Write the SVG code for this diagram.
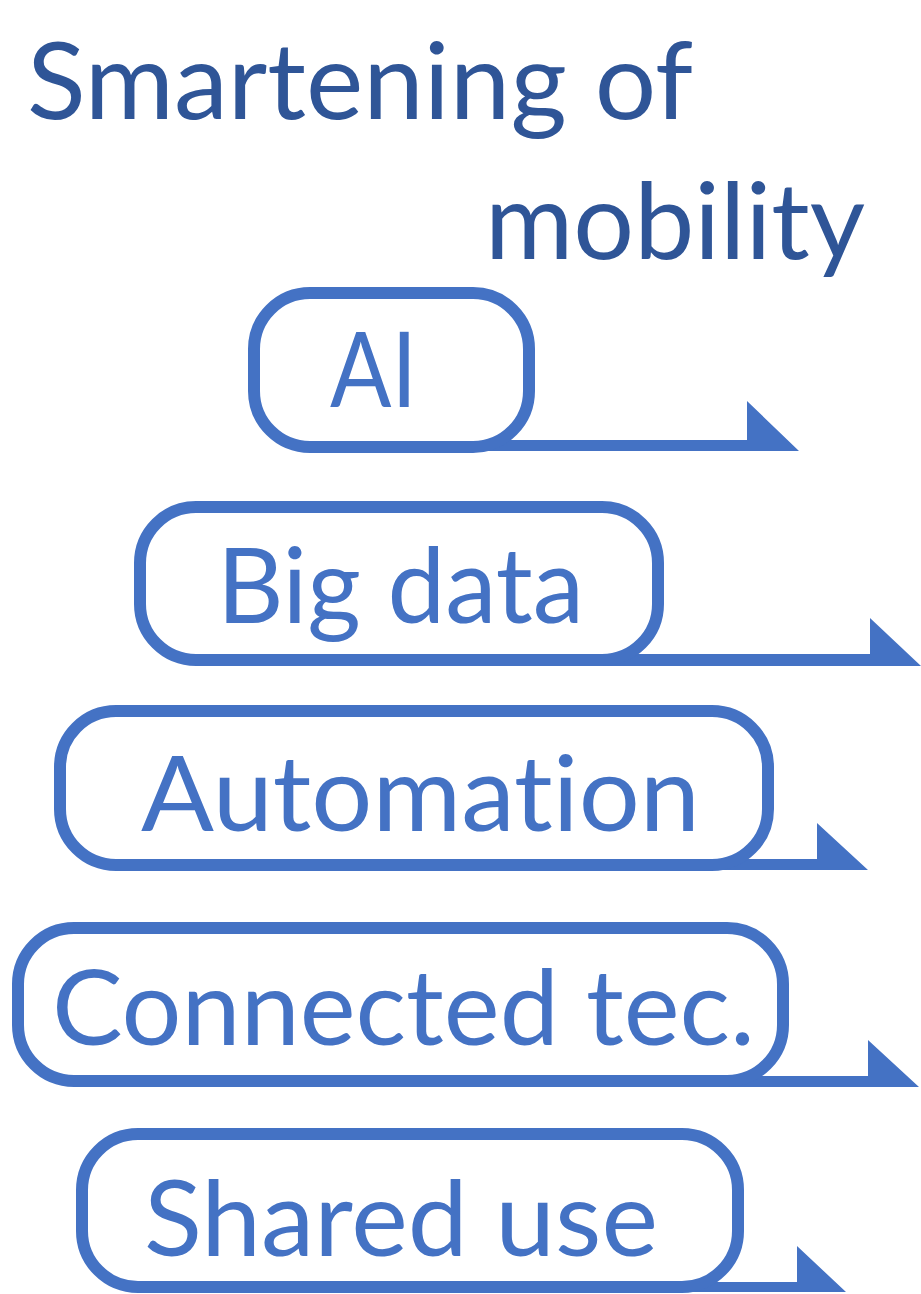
<svg xmlns="http://www.w3.org/2000/svg" width="921" height="1294" viewBox="0 0 921 1294">
<style>
.title{font-family:Lato,"Open Sans","Liberation Sans",sans-serif;font-size:106px;fill:#2F5597;font-variant-ligatures:none}
.lbl{font-family:Lato,"Open Sans","Liberation Sans",sans-serif;font-size:105px;fill:#4472C4;font-variant-ligatures:none}
.box{fill:#FFFFFF;stroke:#4472C4;stroke-width:12}
.arr{fill:#4472C4}
</style>
<rect width="921" height="1294" fill="#FFFFFF"/>
<g id="title">
<text class="title" x="27" y="119" textLength="666" lengthAdjust="spacingAndGlyphs">Smartening of</text>
<text class="title" x="485" y="259" textLength="380" lengthAdjust="spacingAndGlyphs">mobility</text>
</g>
<g id="connectors">
<polygon class="arr" points="470,440 747,440 747,401 799,451 470,451"/>
<polygon class="arr" points="600,654 870,654 870,618 921,666 600,666"/>
<polygon class="arr" points="710,859 817,859 817,823 868,870 710,870"/>
<polygon class="arr" points="720,1076 868,1076 868,1040 919,1087 720,1087"/>
<polygon class="arr" points="680,1282 797,1282 797,1246 846,1292 680,1292"/>
</g>
<g id="node-ai">
<rect class="box" x="254" y="293" width="275" height="154" rx="56" ry="56"/>
<text class="lbl" x="330" y="407" textLength="87" lengthAdjust="spacingAndGlyphs">AI</text>
</g>
<g id="node-bigdata">
<rect class="box" x="140" y="507" width="518" height="153" rx="56" ry="56"/>
<text class="lbl" x="217" y="623" textLength="367" lengthAdjust="spacingAndGlyphs">Big data</text>
</g>
<g id="node-automation">
<rect class="box" x="60" y="711" width="708" height="154" rx="56" ry="56"/>
<text class="lbl" x="141" y="831" textLength="559" lengthAdjust="spacingAndGlyphs">Automation</text>
</g>
<g id="node-connected">
<rect class="box" x="18" y="928" width="765" height="153" rx="56" ry="56"/>
<text class="lbl" x="52" y="1045" textLength="703" lengthAdjust="spacingAndGlyphs">Connected tec.</text>
</g>
<g id="node-shared">
<rect class="box" x="82" y="1134" width="656" height="153" rx="56" ry="56"/>
<text class="lbl" x="144" y="1256" textLength="514" lengthAdjust="spacingAndGlyphs">Shared use</text>
</g>
</svg>
